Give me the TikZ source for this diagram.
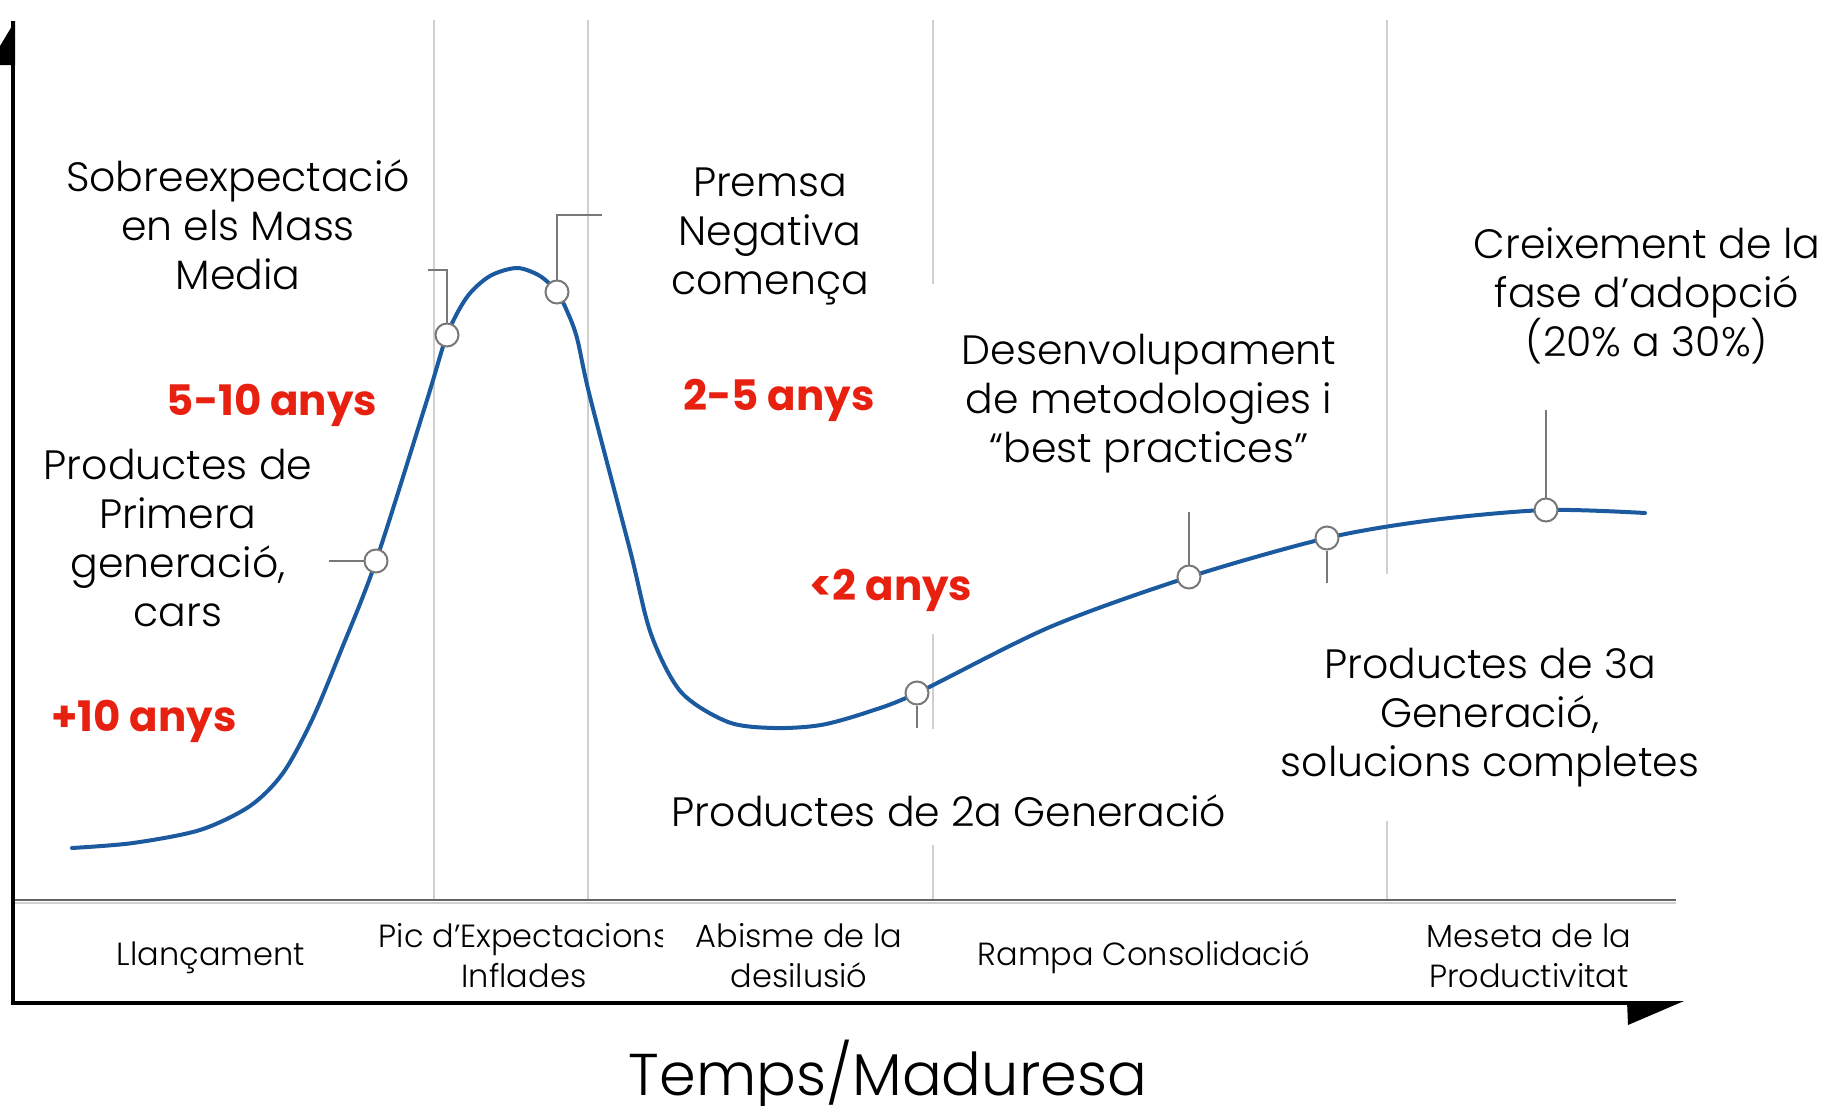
\documentclass[tikz,border=0pt]{standalone}
\usepackage{fontspec}
\setmainfont{Poppins Light}[BoldFont={Poppins Bold}]
\definecolor{curveblue}{RGB}{28,90,160}
\definecolor{yearred}{RGB}{232,32,16}
\definecolor{leadgray}{RGB}{120,120,120}
\definecolor{gridgray}{RGB}{208,208,208}
\definecolor{midgray}{RGB}{100,100,100}
\tikzset{
  lbl/.style={font=\fontsize{41}{49}\selectfont, align=center, inner sep=0pt, anchor=base},
  yrs/.style={font=\fontsize{42}{50}\bfseries\selectfont, text=yearred, inner sep=0pt, anchor=base},
  phase/.style={font=\fontsize{32}{40}\selectfont, align=center, inner sep=0pt, anchor=base},
  dotmark/.style={circle, draw=leadgray, fill=white, line width=2pt, minimum size=23pt, inner sep=0pt},
  leader/.style={draw=leadgray, line width=2.5pt},
  vgrid/.style={draw=gridgray, line width=2.5pt},
  curve/.style={draw=curveblue, line width=4pt, line cap=round},
  axis/.style={draw=black, line width=4pt},
}
\begin{document}
\begin{tikzpicture}[x=1pt,y=-1pt]
\useasboundingbox (0,0) rectangle (1840,1106);
\fill[white] (0,0) rectangle (1840,1106);
% vertical phase separators
\draw[vgrid] (434,20) -- (434,900);
\draw[vgrid] (588,20) -- (588,900);
\draw[vgrid] (933,20) -- (933,284);
\draw[vgrid] (933,634) -- (933,729);
\draw[vgrid] (933,845) -- (933,900);
\draw[vgrid] (1387,20) -- (1387,574);
\draw[vgrid] (1387,821) -- (1387,900);
% middle separator line
\draw[draw=gridgray, line width=2pt] (12,903) -- (1676,903);
\draw[draw=midgray, line width=2.5pt] (12,900) -- (1676,900);
% axes
\draw[axis] (13,21) -- (13,1003);
\fill[black] (15,21) -- (15,65) -- (0,65) -- (0,46) -- cycle;
\draw[axis] (11,1003) -- (1660,1003);
\fill[black] (1627,1001) -- (1684,1001) -- (1628,1025) -- cycle;
% curve
\coordinate (pA) at (376,561);
\coordinate (pB) at (447,335);
\coordinate (pC) at (557,292);
\coordinate (pD) at (917,693);
\coordinate (pE) at (1189,577);
\coordinate (pF) at (1327,538);
\coordinate (pG) at (1546,510);
\draw[curve] plot[smooth, tension=0.5] coordinates {
 (72,848) (133,843) (200,830) (250,806) (283,773) (312,720) (340,653) (376,561)
 (427,400) (447,335) (467,297) (490,276) (517,268) (540,276) (557,292)
 (567,311) (577,338) (590,397) (630,550) (651,634) (681,692) (728,722) (774,728) (821,725)
 (868,712) (917,693) (1050,627) (1189,577) (1327,538) (1433,520) (1546,510) (1645,513)};
% markers
\node[dotmark] (cA) at (pA) {};
\node[dotmark] (cB) at (pB) {};
\node[dotmark] (cC) at (pC) {};
\node[dotmark] (cD) at (pD) {};
\node[dotmark] (cE) at (pE) {};
\node[dotmark] (cF) at (pF) {};
\node[dotmark] (cG) at (pG) {};
\coordinate (eA) at (329,561);
\coordinate (kB) at (447,270);
\coordinate (eB) at (428,270);
\coordinate (kC) at (557,215);
\coordinate (eC) at (602,215);
\coordinate (eD) at (917,728);
\coordinate (eE) at (1189,512);
\coordinate (eF) at (1327,583);
\coordinate (eG) at (1546,410);
\draw[leader] (cA.west) -- (eA);
\draw[leader] (cB.north) -- (kB) -- (eB);
\draw[leader] (cC.north) -- (kC) -- (eC);
\draw[leader] (cD.south) -- (eD);
\draw[leader] (cE.north) -- (eE);
\draw[leader] (cF.south) -- (eF);
\draw[leader] (cG.north) -- (eG);
% annotations (base = baseline of last line)
\node[lbl] (sobre) at (238,289) {Sobreexpectació\\en els Mass\\Media};
\node[lbl] (prim) at (178,626) {Productes de\\Primera\\generació,\\cars};
\node[lbl] (premsa) at (770,294) {Premsa\\Negativa\\comença};
\node[lbl] (desenv) at (1149,462) {Desenvolupament\\de metodologies i\\“best practices”};
\node[lbl] (creix) at (1647,356) {Creixement de la\\fase d’adopció\\(20\% a 30\%)};
\node[lbl] (tercera) at (1490,776) {Productes de 3a\\Generació,\\solucions completes};
\node[lbl] (segona) at (949,826) {Productes de 2a Generació};
% years
\node[yrs] (y510) at (272,415) {5-10 anys};
\node[yrs] (y10) at (144,731) {+10 anys};
\node[yrs] (y25) at (779,410) {2-5 anys};
\node[yrs] (y2) at (891,600) {<2 anys};
% phases
\node[phase] (llanc) at (211,965) {Llançament};
\node[phase] (pic) at (524,987) {Pic d’Expectacions\\Inflades};
\fill[white] (663,915) rectangle (694,955);
\node[phase] (abisme) at (799,987) {Abisme de la\\desilusió};
\node[phase] (rampa) at (1144,965) {Rampa Consolidació};
\node[phase] (meseta) at (1529,987) {Meseta de la\\Productivitat};
\node[font=\fontsize{59}{69}\selectfont, inner sep=0pt, anchor=base] (temps) at (888,1095) {Temps/Maduresa};
\end{tikzpicture}
\end{document}
